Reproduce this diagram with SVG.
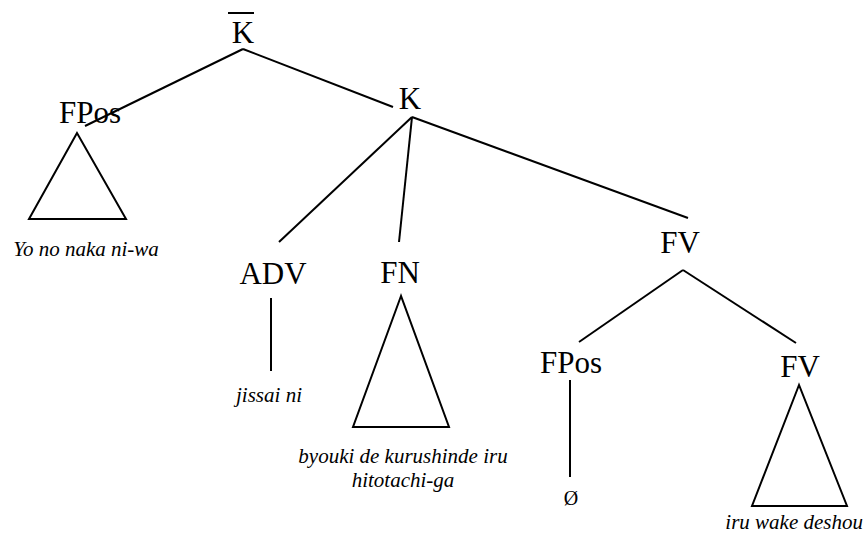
<svg xmlns="http://www.w3.org/2000/svg" width="865" height="537" viewBox="0 0 865 537">
<style>
  .lbl { font-family: 'Liberation Serif', 'Times New Roman', Times, 'DejaVu Serif', serif; font-size: 31px; fill: #000; text-anchor: middle; }
  .lex { font-family: 'Liberation Serif', 'Times New Roman', Times, 'DejaVu Serif', serif; font-size: 21px; font-style: italic; fill: #000; text-anchor: middle; }
  .sym { font-family: 'Liberation Serif', 'Times New Roman', Times, 'DejaVu Serif', serif; font-size: 20px; fill: #000; text-anchor: middle; }
  .edge { stroke: #000; stroke-width: 2; fill: none; stroke-linecap: butt; }
  .tri { stroke: #000; stroke-width: 2; fill: none; stroke-linejoin: miter; }
</style>
<rect width="865" height="537" fill="#fff"/>
<g id="connectors">
  <line class="edge" x1="243" y1="49" x2="85" y2="126"/>
  <line class="edge" x1="243" y1="49" x2="393" y2="107"/>
  <line class="edge" x1="412" y1="117" x2="279" y2="242"/>
  <line class="edge" x1="412" y1="117" x2="399" y2="242"/>
  <line class="edge" x1="412" y1="117" x2="688" y2="218"/>
  <line class="edge" x1="683" y1="270" x2="579" y2="342"/>
  <line class="edge" x1="683" y1="270" x2="796" y2="343"/>
  <line class="edge" x1="271" y1="298" x2="271" y2="371"/>
  <line class="edge" x1="570" y1="380" x2="570" y2="477"/>
</g>
<g id="node-Kbar">
  <line class="edge" x1="228" y1="13" x2="254" y2="13"/>
  <text class="lbl" x="243" y="43">K</text>
</g>
<g id="node-FPos1">
  <text class="lbl" x="90" y="123">FPos</text>
  <polygon class="tri" points="77,133 29,219 126,219"/>
  <text class="lex" x="86" y="256">Yo no naka ni-wa</text>
</g>
<g id="node-K">
  <text class="lbl" x="410" y="109">K</text>
</g>
<g id="node-ADV">
  <text class="lbl" x="273" y="284">ADV</text>
  <text class="lex" x="269" y="402">jissai ni</text>
</g>
<g id="node-FN">
  <text class="lbl" x="400" y="283">FN</text>
  <polygon class="tri" points="401,296 353,427 449,427"/>
  <text class="lex" x="403" y="463">byouki de kurushinde iru</text>
  <text class="lex" x="403" y="487">hitotachi-ga</text>
</g>
<g id="node-FV1">
  <text class="lbl" x="680" y="253">FV</text>
</g>
<g id="node-FPos2">
  <text class="lbl" x="571" y="373">FPos</text>
  <text class="sym" x="571" y="505">Ø</text>
</g>
<g id="node-FV2">
  <text class="lbl" x="800" y="377">FV</text>
  <polygon class="tri" points="799,385 752,506 847,506"/>
  <text class="lex" x="863" y="529" style="text-anchor:end">iru wake deshou</text>
</g>
</svg>
